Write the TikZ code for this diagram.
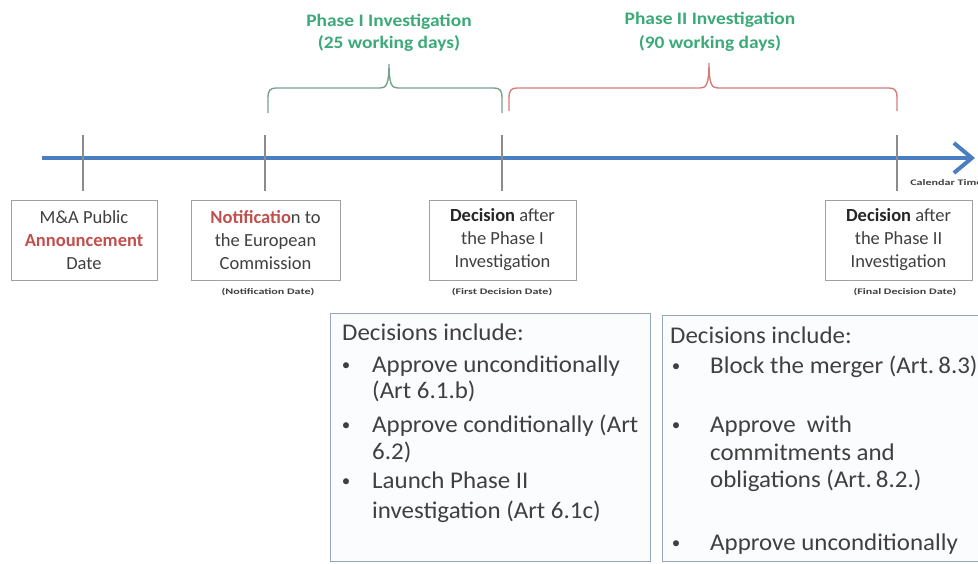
\documentclass[tikz,border=0pt]{standalone}
\usepackage{fontspec}
\setmainfont{Carlito}
\usetikzlibrary{arrows.meta}
\definecolor{tlblue}{RGB}{74,126,190}
\definecolor{tickgray}{RGB}{140,140,140}
\definecolor{phgreen}{RGB}{60,170,120}
\definecolor{brgreen}{RGB}{120,160,140}
\definecolor{brred}{RGB}{215,125,120}
\definecolor{txtred}{RGB}{192,80,77}
\definecolor{txtgray}{RGB}{64,64,64}
\definecolor{boxgray}{RGB}{160,160,160}
\definecolor{bigboxline}{RGB}{150,165,185}
\definecolor{bigboxfill}{RGB}{251,252,254}
\begin{document}
\begin{tikzpicture}[x=1pt,y=-1pt,
  datebox/.style={draw=boxgray,line width=1pt,minimum width=147pt,minimum height=80pt,
    align=center,text=txtgray,font=\fontsize{18.5}{23}\selectfont,inner sep=0pt},
  bigbox/.style={draw=bigboxline,line width=1pt,fill=bigboxfill,anchor=north west,inner sep=0pt},
  caption/.style={font=\fontsize{8.5}{9}\selectfont\bfseries,text=txtgray,xscale=1.42,transform shape,inner sep=0pt},
  phase/.style={font=\fontsize{17.5}{20}\selectfont\bfseries,text=phgreen,anchor=base,inner sep=0pt,xscale=1.11,transform shape},
  tick/.style={draw=tickgray,line width=1.3pt},
  brace/.style={line width=1.4pt},
  itemtxt/.style={anchor=base west,inner sep=0pt,text=txtgray,font=\fontsize{24}{28}\selectfont,xscale=1.04,transform shape},
  bul/.style={anchor=base,inner sep=0pt,text=txtgray,font=\fontsize{17}{20}\selectfont}]
\useasboundingbox (0,0) rectangle (978,563);
\fill[white] (0,0) rectangle (978,563);

% timeline
\coordinate (tlstart) at (42,158);
\coordinate (tlend) at (975,158);
\draw[tlblue,line width=4pt,-{Straight Barb[length=18pt,width=30pt]}] (tlstart) -- (tlend);

% ticks
\foreach \n/\x in {a/83,b/265,c/502,d/897}{
  \coordinate (\n top) at (\x,135);
  \coordinate (\n bot) at (\x,191);
  \draw[tick] (\n top) -- (\n bot);
}

% date boxes
\node[datebox,minimum width=146pt] (box1) at (84,240) {M\&A Public\\\textcolor{txtred}{\bfseries Announcement}\\Date};
\node[datebox,minimum width=149pt] (box2) at (265.5,240) {\textcolor{txtred}{\bfseries Notificatio}n to\\the European\\Commission};
\node[datebox] (box3) at (502.5,240) {\textcolor[RGB]{38,38,38}{\bfseries Decision} after\\the Phase I\\Investigation};
\node[datebox] (box4) at (898.5,240) {\textcolor[RGB]{38,38,38}{\bfseries Decision} after\\the Phase II\\Investigation};

% captions
\node[caption] (cap2) at (268,292) {(Notification Date)};
\node[caption] (cap3) at (502,292) {(First Decision Date)};
\node[caption] (cap4) at (905,292) {(Final Decision Date)};
\node[caption,anchor=west] (caltime) at (910,183) {Calendar Time};

% braces
\coordinate (b1l) at (268,113);
\coordinate (b1r) at (502,113);
\coordinate (b1m) at (389,64);
\draw[brace,brgreen] (b1l) -- (268,97) .. controls (268,91) and (270,88) .. (276,88) -- (380,88)
  .. controls (386,88) and (389,85) .. (b1m) .. controls (389,85) and (392,88) .. (398,88)
  -- (494,88) .. controls (500,88) and (502,91) .. (502,97) -- (b1r);
\coordinate (b2l) at (509,111);
\coordinate (b2r) at (897,111);
\coordinate (b2m) at (709,63);
\draw[brace,brred] (b2l) -- (509,97) .. controls (509,91) and (511,88) .. (517,88) -- (700,88)
  .. controls (706,88) and (709,85) .. (b2m) .. controls (709,85) and (712,88) .. (718,88)
  -- (889,88) .. controls (895,88) and (897,91) .. (897,97) -- (b2r);

% phase labels
\node[phase] (ph1a) at (389,26) {Phase I Investigation};
\node[phase] (ph1b) at (389,48) {(25 working days)};
\node[phase] (ph2a) at (710,24) {Phase II Investigation};
\node[phase] (ph2b) at (710,48) {(90 working days)};

% decision box 1
\node[bigbox,minimum width=320pt,minimum height=248pt] (dec1) at (330,313) {};
\node[itemtxt] (d1h) at (342,340) {Decisions include:};
\node[bul] (d1b1) at (346,370) {•};
\node[itemtxt] (d1t1) at (372,372) {Approve unconditionally};
\node[itemtxt] (d1t1b) at (372,398) {(Art 6.1.b)};
\node[bul] (d1b2) at (346,430) {•};
\node[itemtxt] (d1t2) at (372,432) {Approve conditionally (Art};
\node[itemtxt] (d1t2b) at (372,459) {6.2)};
\node[bul] (d1b3) at (346,486) {•};
\node[itemtxt] (d1t3) at (372,488) {Launch Phase II};
\node[itemtxt] (d1t3b) at (372,518) {investigation (Art 6.1c)};

% decision box 2
\node[bigbox,minimum width=330pt,minimum height=246pt] (dec2) at (662,315) {};
\node[itemtxt] (d2h) at (670,343) {Decisions include:};
\node[bul] (d2b1) at (676,371) {•};
\node[itemtxt] (d2t1) at (710,373) {Block the merger (Art.\,8.3)};
\node[bul] (d2b2) at (676,430) {•};
\node[itemtxt] (d2t2) at (710,432) {Approve\ \ with};
\node[itemtxt] (d2t2b) at (710,460) {commitments and};
\node[itemtxt] (d2t2c) at (710,487) {obligations (Art.\,8.2.)};
\node[bul] (d2b3) at (676,548) {•};
\node[itemtxt] (d2t3) at (710,550) {Approve unconditionally};
\end{tikzpicture}
\end{document}
